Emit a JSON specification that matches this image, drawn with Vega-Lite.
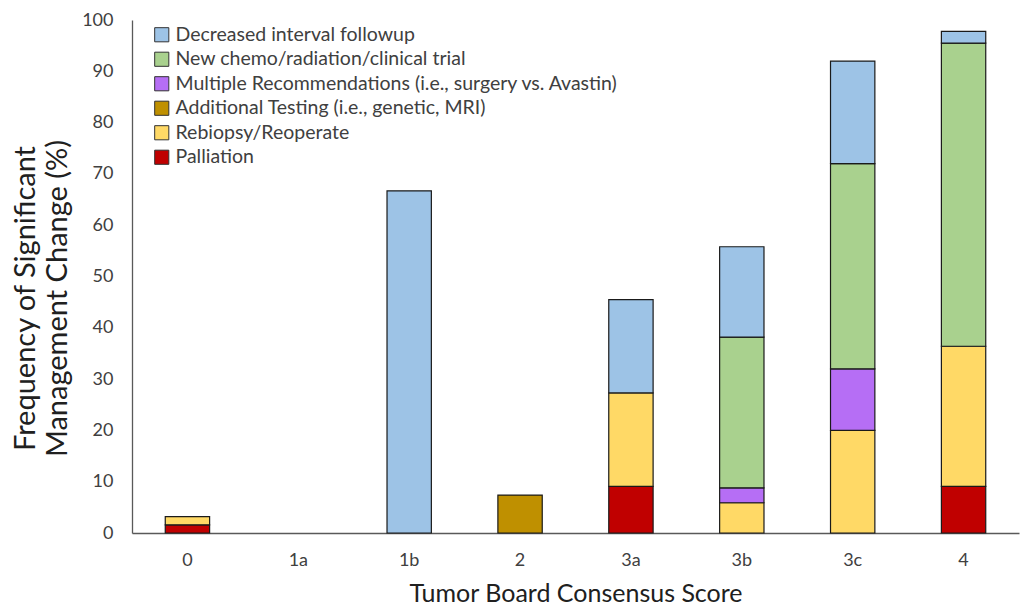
{
  "$schema": "https://vega.github.io/schema/vega-lite/v6.json",
  "autosize": {"type": "none"},
  "padding": {"left": 132, "top": 20, "right": 5, "bottom": 72},
  "width": 887,
  "height": 513,
  "background": "white",
  "config": {
    "font": "Lato",
    "view": {"stroke": null},
    "axis": {"labelColor": "#404040", "titleColor": "#202020", "labelFont": "Lato", "titleFont": "Lato", "titleFontWeight": "normal"}
  },
  "data": {
    "values": [
      {"score": "0", "cat": "Palliation", "value": 1.6},
      {"score": "0", "cat": "Rebiopsy/Reoperate", "value": 1.6},
      {"score": "1b", "cat": "Decreased interval followup", "value": 66.7},
      {"score": "2", "cat": "Additional Testing (i.e., genetic, MRI)", "value": 7.4},
      {"score": "3a", "cat": "Palliation", "value": 9.1},
      {"score": "3a", "cat": "Rebiopsy/Reoperate", "value": 18.2},
      {"score": "3a", "cat": "Decreased interval followup", "value": 18.2},
      {"score": "3b", "cat": "Rebiopsy/Reoperate", "value": 5.9},
      {"score": "3b", "cat": "Multiple Recommendations (i.e., surgery vs. Avastin)", "value": 2.9},
      {"score": "3b", "cat": "New chemo/radiation/clinical trial", "value": 29.4},
      {"score": "3b", "cat": "Decreased interval followup", "value": 17.6},
      {"score": "3c", "cat": "Rebiopsy/Reoperate", "value": 20},
      {"score": "3c", "cat": "Multiple Recommendations (i.e., surgery vs. Avastin)", "value": 12},
      {"score": "3c", "cat": "New chemo/radiation/clinical trial", "value": 40},
      {"score": "3c", "cat": "Decreased interval followup", "value": 20},
      {"score": "4", "cat": "Palliation", "value": 9.1},
      {"score": "4", "cat": "Rebiopsy/Reoperate", "value": 27.3},
      {"score": "4", "cat": "New chemo/radiation/clinical trial", "value": 59.1},
      {"score": "4", "cat": "Decreased interval followup", "value": 2.3}
    ]
  },
  "transform": [
    {"calculate": "indexof(['Decreased interval followup', 'New chemo/radiation/clinical trial', 'Multiple Recommendations (i.e., surgery vs. Avastin)', 'Additional Testing (i.e., genetic, MRI)', 'Rebiopsy/Reoperate', 'Palliation'], datum.cat)", "as": "stackrank"}
  ],
  "mark": {"type": "bar", "stroke": "#1a1a1a", "strokeWidth": 1.2},
  "encoding": {
    "x": {
      "field": "score", "type": "nominal",
      "scale": {"domain": ["0", "1a", "1b", "2", "3a", "3b", "3c", "4"], "paddingInner": 0.6, "paddingOuter": 0.3},
      "axis": {"title": "Tumor Board Consensus Score", "labelAngle": 0, "labelFontSize": 18, "titleFontSize": 25, "ticks": false, "labelPadding": 18, "titlePadding": 12, "domainColor": "#595959", "domainWidth": 1.3}
    },
    "y": {
      "field": "value", "type": "quantitative", "aggregate": "sum",
      "scale": {"domain": [0, 100]},
      "axis": {"title": ["Frequency of Significant", "Management Change (%)"], "tickCount": 10, "grid": false, "ticks": false, "labelFontSize": 18, "titleFontSize": 29, "labelPadding": 19, "titlePadding": 9, "titleY": 278, "domainColor": "#595959", "domainWidth": 1.3, "titleLineHeight": 32}
    },
    "order": {"field": "stackrank", "type": "quantitative", "sort": "descending"},
    "color": {
      "field": "cat", "type": "nominal",
      "scale": {
        "domain": ["Decreased interval followup", "New chemo/radiation/clinical trial", "Multiple Recommendations (i.e., surgery vs. Avastin)", "Additional Testing (i.e., genetic, MRI)", "Rebiopsy/Reoperate", "Palliation"],
        "range": ["#9DC3E6", "#A9D18E", "#B66EF5", "#BF9000", "#FFD966", "#C00000"]
      },
      "legend": {
        "title": null, "orient": "none", "legendX": 20, "legendY": 5,
        "symbolType": "square", "symbolSize": 200, "symbolStrokeColor": "#333333", "symbolStrokeWidth": 1,
        "labelFontSize": 19.5, "labelColor": "#404040", "labelFont": "Lato", "rowPadding": 3.5, "labelLimit": 700, "labelOffset": 4
      }
    }
  }
}
